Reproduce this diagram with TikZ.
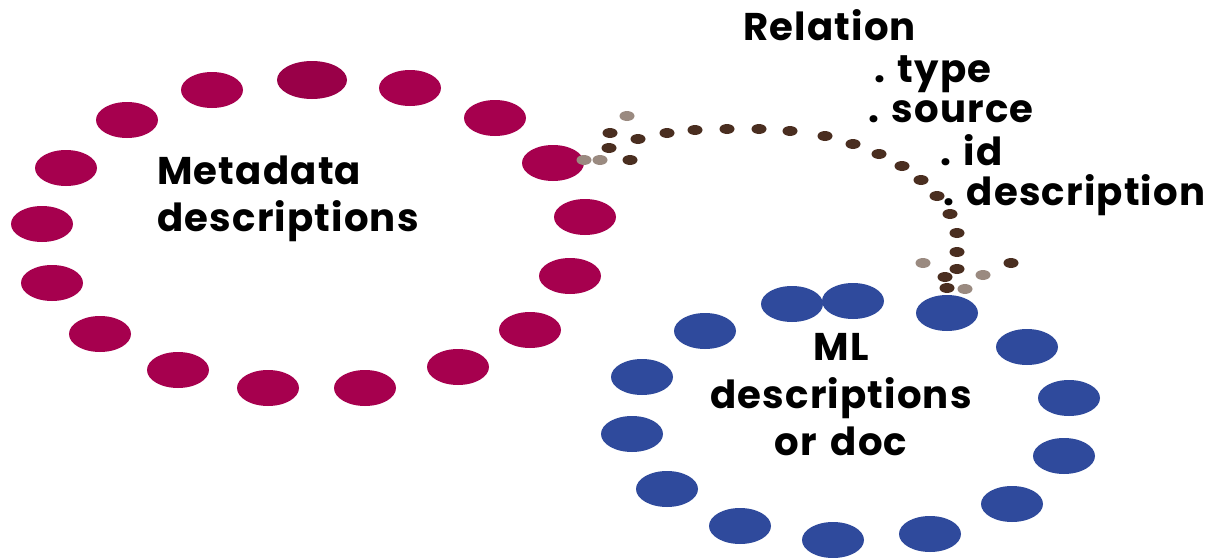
\documentclass[tikz,border=0pt]{standalone}
\usepackage{fontspec}
\setmainfont{Poppins}
\definecolor{dotred}{HTML}{A6004E}
\definecolor{dotblue}{HTML}{2F4A9C}
\definecolor{dotbrown}{HTML}{4A2E20}
\definecolor{dotgrey}{HTML}{9A8A80}
\tikzset{
  x=0.02cm,
  y=-0.02cm,
  % styles
  reddot/.style={fill=dotred},
  bluedot/.style={fill=dotblue},
  browndot/.style={fill=dotbrown},
  greydot/.style={fill=dotgrey},
  tag/.style={font=\bfseries\fontsize{22}{27}\selectfont\addfontfeature{LetterSpace=3},
              inner sep=0pt},
}
\begin{document}
\begin{tikzpicture}
  \fill[white] (0,0) rectangle (1205,558);
  \useasboundingbox (0,0) rectangle (1205,558);

  % metadata ring
  \fill[reddot,fill=dotred!92!black] (312,80) ellipse [x radius=35,y radius=19];
  \foreach \x/\y in {212/90, 410/88, 127/120, 495/118, 66/168, 553/163,
                     42/224, 585/217, 52/283, 570/276, 100/334, 530/330,
                     178/370, 458/367, 268/388, 365/388}
    \fill[reddot] (\x,\y) ellipse [x radius=31,y radius=18];

  % ml ring
  \foreach \x/\y in {792/304, 853/301, 947/313, 705/331, 1027/347, 642/377,
                     1069/398, 632/434, 1064/456, 667/489, 1012/504,
                     740/526, 833/540, 930/534}
    \fill[bluedot] (\x,\y) ellipse [x radius=31,y radius=18];

  % relation arc
  \foreach \x/\y in {610/133, 638/139, 609/148, 630/160, 667/133, 695/130,
                     727/129, 759/129, 790/131, 825/136, 853/144, 879/154,
                     902/166, 921/180, 937/196, 950/214, 957/233, 957/252,
                     957/269, 945/277, 1011/263, 947/288}
    \fill[browndot] (\x,\y) ellipse [x radius=7.5,y radius=5];
  \foreach \x/\y in {627/116, 600/160, 584/160, 923/263, 983/275, 965/289}
    \fill[greydot] (\x,\y) ellipse [x radius=7.5,y radius=5];

  % labels
  \node[tag, align=left] (meta) at (288,199) {Metadata\\descriptions};
  \node[tag, align=center] (ml) at (841,395) {ML\\descriptions\\or\hspace{0.35em}doc};
  \node[tag, anchor=base west] (rel) at (743,40) {Relation};
  \node[tag, anchor=base west] (type) at (874,82) {. type};
  \node[tag, anchor=base west] (src) at (868,122) {. source};
  \node[tag, anchor=base west] (id) at (940,165) {. id};
  \node[tag, anchor=base west] (desc) at (943,205) {. description};
\end{tikzpicture}
\end{document}
